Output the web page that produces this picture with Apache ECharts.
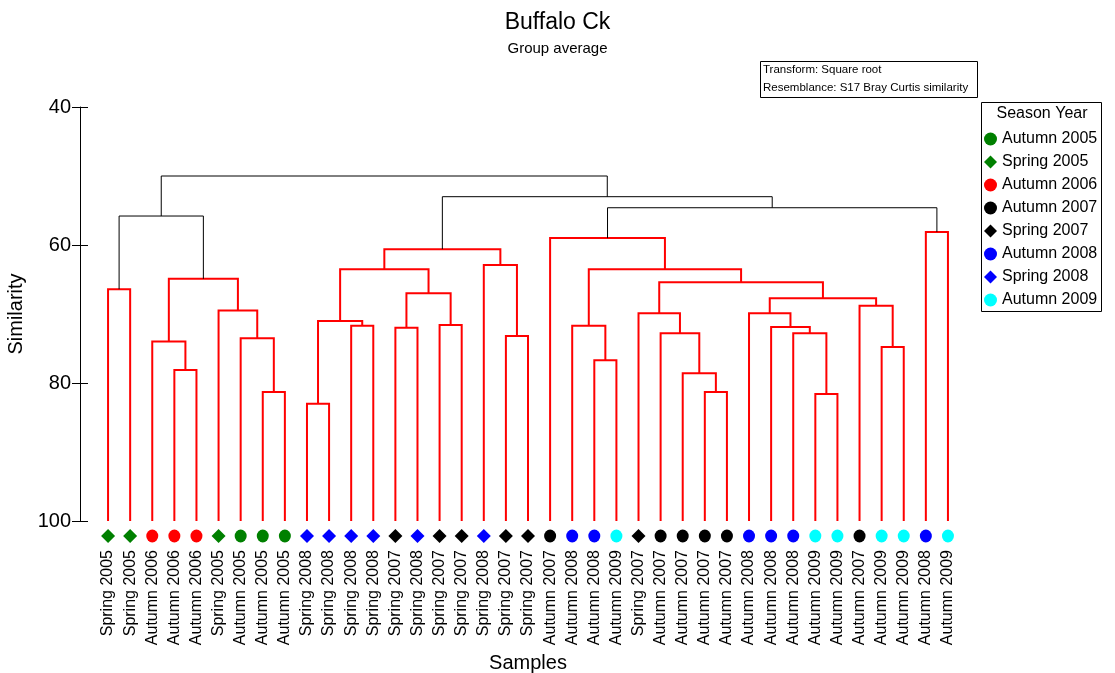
<!DOCTYPE html>
<html>
<head>
<meta charset="utf-8">
<script src="https://cdn.jsdelivr.net/npm/echarts@6/dist/echarts.min.js"></script>
<style>html,body{margin:0;padding:0;background:#fff}#c{width:1115px;height:673px}</style>
</head>
<body>
<div id="c"></div>
<script>
// Leaves in dendrogram order
var leafLabels = ['Spring 2005','Spring 2005','Autumn 2006','Autumn 2006','Autumn 2006','Spring 2005','Autumn 2005','Autumn 2005','Autumn 2005',
  'Spring 2008','Spring 2008','Spring 2008','Spring 2008','Spring 2007','Spring 2008','Spring 2007','Spring 2007','Spring 2008','Spring 2007','Spring 2007',
  'Autumn 2007','Autumn 2008','Autumn 2008','Autumn 2009','Spring 2007','Autumn 2007','Autumn 2007','Autumn 2007','Autumn 2007',
  'Autumn 2008','Autumn 2008','Autumn 2008','Autumn 2009','Autumn 2009','Autumn 2007','Autumn 2009','Autumn 2009','Autumn 2008','Autumn 2009'];
var groups = ['Autumn 2005','Spring 2005','Autumn 2006','Autumn 2007','Spring 2007','Autumn 2008','Spring 2008','Autumn 2009'];
var groupColors = ['#008000','#008000','#ff0000','#000000','#000000','#0000ff','#0000ff','#00ffff'];
// merges: node ids 0..38 are leaves, 39+ are merges in this order
var mergeLeft  = [3, 2, 7, 6, 5, 40, 0, 45, 9, 11, 47, 13, 15, 50, 49, 18, 17, 53, 22, 21, 27, 26, 25, 24, 32, 31, 30, 29, 35, 34, 66, 62, 58, 20, 37, 72, 56, 46];
var mergeRight = [4, 39, 8, 41, 42, 43, 1, 44, 10, 12, 48, 14, 16, 51, 52, 19, 54, 55, 23, 57, 28, 59, 60, 61, 33, 63, 64, 65, 36, 67, 68, 69, 70, 71, 38, 73, 74, 75];
var mergeSim   = [78.1, 74.0, 81.3, 73.5, 69.5, 64.9, 66.4, 55.8, 83.0, 71.7, 71.0, 72.0, 71.6, 67.0, 63.5, 73.2, 62.9, 60.6, 76.7, 71.7, 81.3, 78.6, 72.8, 69.9, 81.6, 72.8, 71.9, 69.9, 74.8, 68.8, 67.7, 65.4, 63.5, 59.0, 58.1, 54.6, 53.0, 50.0];
var mergeSignificant = [0,0,0,0,0,0,0,1,0,0,0,0,0,0,0,0,0,0,0,0,0,0,0,0,0,0,0,0,0,0,0,0,0,0,0,1,1,1];
var yTicks = [40, 60, 80, 100];

var nLeaf = leafLabels.length;
var nodeX = [], nodeY = [];
for (var i = 0; i < nLeaf; i++) { nodeX.push(i); nodeY.push(100); }
var segData = [];
for (var k = 0; k < mergeLeft.length; k++) {
  var a = mergeLeft[k], b = mergeRight[k];
  nodeX.push((nodeX[a] + nodeX[b]) / 2);
  nodeY.push(mergeSim[k]);
  segData.push([nodeX[a], mergeSim[k], nodeX[b], nodeY[a], nodeY[b], mergeSignificant[k]]);
}
var markerY = 102.17;
var series = [{
  type: 'custom',
  xAxisIndex: 0, yAxisIndex: 0,
  silent: true,
  clip: false,
  data: segData,
  encode: {x: [0, 2], y: [1, 3, 4]},
  renderItem: function (params, api) {
    var xa = api.value(0), s = api.value(1), xb = api.value(2), ya = api.value(3), yb = api.value(4), sig = api.value(5);
    var p = [api.coord([xa, ya]), api.coord([xa, s]), api.coord([xb, s]), api.coord([xb, yb])];
    return {type: 'polyline', shape: {points: p},
      style: {stroke: sig ? '#000' : '#ff0000', lineWidth: sig ? 1 : 2, fill: null}};
  }
}];
groups.forEach(function (g, gi) {
  var d = [];
  leafLabels.forEach(function (l, i) { if (l === g) d.push([i, markerY]); });
  var diamond = g.indexOf('Spring') === 0;
  series.push({
    name: g, type: 'scatter', xAxisIndex: 0, yAxisIndex: 0, clip: false,
    symbol: diamond ? 'diamond' : 'circle',
    symbolSize: diamond ? [14, 14] : [12, 13],
    itemStyle: {color: groupColors[gi], opacity: 1},
    data: d
  });
});

var chart = echarts.init(document.getElementById('c'), null, {renderer: 'canvas'});
chart.setOption({
  animation: false,
  backgroundColor: '#fff',
  textStyle: {fontFamily: 'Liberation Sans, Arial, sans-serif'},
  title: {
    text: 'Buffalo Ck', subtext: 'Group average', left: 'center', top: 6, itemGap: 7,
    textStyle: {fontSize: 23, fontWeight: 'normal', color: '#000', fontFamily: 'Liberation Sans'},
    subtextStyle: {fontSize: 15, color: '#000', fontFamily: 'Liberation Sans'}
  },
  grid: {left: 97, top: 107, width: 862, bottom: 152, outerBoundsMode: 'none', containLabel: false},
  xAxis: [
    {type: 'value', min: -0.5, max: 38.5, show: false},
    {type: 'category', data: leafLabels, position: 'bottom', boundaryGap: true,
     axisLine: {show: false, onZero: false}, axisTick: {show: false},
     axisLabel: {interval: 0, rotate: 90, fontSize: 16, margin: 29, color: '#000', fontFamily: 'Liberation Sans'},
     name: 'Samples', nameLocation: 'middle', nameGap: 127,
     nameTextStyle: {fontSize: 20, color: '#000', fontFamily: 'Liberation Sans'}}
  ],
  yAxis: [
    {type: 'value', min: 40, max: 100, interval: 20, inverse: true, offset: 17, position: 'left',
     splitLine: {show: false},
     axisLine: {show: true, onZero: false, lineStyle: {color: '#000', width: 1}},
     axisTick: {show: true, length: 8, lineStyle: {color: '#000'}},
     axisLabel: {fontSize: 20, color: '#000', margin: 9, fontFamily: 'Liberation Sans'},
     name: 'Similarity', nameLocation: 'middle', nameGap: 50,
     nameTextStyle: {fontSize: 20, color: '#000', fontFamily: 'Liberation Sans'}},
    {type: 'value', min: 40, max: 100, interval: 20, inverse: true, offset: 17, position: 'left',
     splitLine: {show: false}, axisLine: {show: false, onZero: false},
     axisTick: {show: true, inside: true, length: 8, lineStyle: {color: '#000'}},
     axisLabel: {show: false}}
  ],
  legend: {
    orient: 'vertical', left: 984, top: 131, padding: 0, itemGap: 7,
    itemWidth: 13, itemHeight: 13,
    textStyle: {fontSize: 16, color: '#000', fontFamily: 'Liberation Sans'},
    data: groups
  },
  graphic: [
    {type: 'rect', shape: {x: 760.5, y: 61.5, width: 217, height: 36}, style: {fill: '#fff', stroke: '#000', lineWidth: 1}, z: 10},
    {type: 'text', x: 763, y: 70, style: {text: 'Transform: Square root', fontSize: 11.5, fill: '#000', verticalAlign: 'middle', fontFamily: 'Liberation Sans'}, z: 11},
    {type: 'text', x: 763, y: 88, style: {text: 'Resemblance: S17 Bray Curtis similarity', fontSize: 11.5, fill: '#000', verticalAlign: 'middle', fontFamily: 'Liberation Sans'}, z: 11},
    {type: 'rect', shape: {x: 981.5, y: 102.5, width: 120, height: 209}, style: {fill: null, stroke: '#000', lineWidth: 1}, z: 10},
    {type: 'text', x: 1042, y: 114, style: {text: 'Season Year', fontSize: 16, fill: '#000', align: 'center', verticalAlign: 'middle', fontFamily: 'Liberation Sans'}, z: 11}
  ],
  series: series
});
</script>
</body>
</html>
